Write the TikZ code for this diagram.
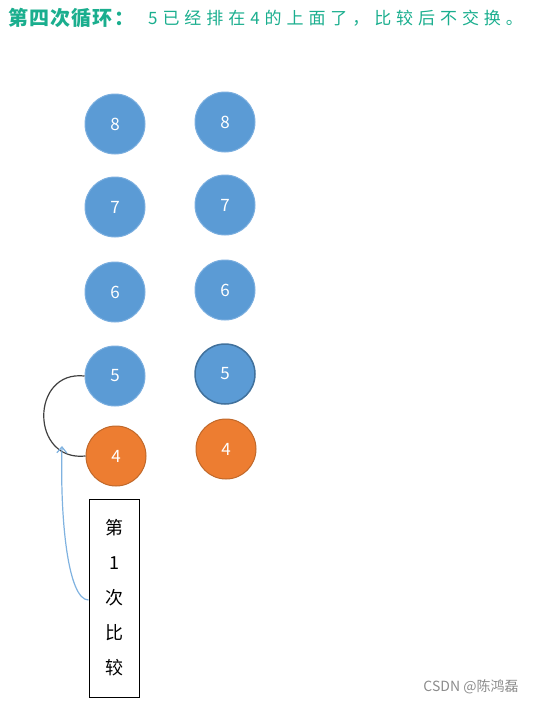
\documentclass[tikz,border=0pt]{standalone}
\usepackage{fontspec}
\setmainfont{Noto Sans CJK SC}
\newfontfamily\spaced[LetterSpace=29]{Noto Sans CJK SC}
\newfontfamily\tspaced[LetterSpace=6]{Noto Sans CJK SC}
\usetikzlibrary{arrows.meta}
\definecolor{tealc}{HTML}{1AAE8E}
\definecolor{blu}{HTML}{5B9BD5}
\definecolor{bluedge}{HTML}{7AAEDF}
\definecolor{bludark}{HTML}{41719C}
\definecolor{org}{HTML}{ED7D31}
\definecolor{orgedge}{HTML}{C0682A}
\definecolor{arrowblue}{HTML}{7FB2E0}
\begin{document}
\begin{tikzpicture}[x=1pt,y=-1pt,
  ball/.style={circle,minimum size=60pt,inner sep=0pt,fill=blu,draw=bluedge,line width=1pt,text=white,font=\fontsize{17}{17}\selectfont},
  oball/.style={ball,fill=org,draw=orgedge},
  dball/.style={ball,draw=bludark,line width=1.5pt}]
\useasboundingbox (0,0) rectangle (537,704);
\node[anchor=west,text=tealc,font=\tspaced\fontsize{20}{20}\selectfont\bfseries,inner sep=0pt] (title) at (8,18) {第四次循环：};
\node[anchor=west,text=tealc,font=\spaced\fontsize{17}{18}\selectfont,inner sep=0pt] (desc) at (148,18) {5已经排在4的上面了，比较后不交换。};
\node[ball] (l8) at (115,124) {8};
\node[ball] (l7) at (115,207) {7};
\node[ball] (l6) at (115,292) {6};
\node[ball] (l5) at (115,376) {5};
\node[oball] (l4) at (116,456) {4};
\node[ball] (r8) at (225,122) {8};
\node[ball] (r7) at (225,205) {7};
\node[ball] (r6) at (225,290) {6};
\node[dball] (r5) at (225,374) {5};
\node[oball] (r4) at (226,449) {4};
\draw[line width=1.2pt,black!75] (l5.west) .. controls (30,370) and (30,462) .. (l4.west);
\node[draw,line width=1pt,minimum width=50pt,minimum height=198pt,inner sep=0pt,align=center,font=\fontsize{18}{35}\selectfont] (box) at (114,598) {第\\1\\次\\比\\较};
\draw[arrowblue,line width=1.2pt,-{Straight Barb[length=6pt,width=10pt]}] (box.west |- 0,600) .. controls (68,600) and (60,520) .. (62,446);
\node[text=black!45,font=\fontsize{14}{14}\selectfont,inner sep=0pt] (wm) at (471,687) {CSDN @陈鸿磊};
\end{tikzpicture}
\end{document}
